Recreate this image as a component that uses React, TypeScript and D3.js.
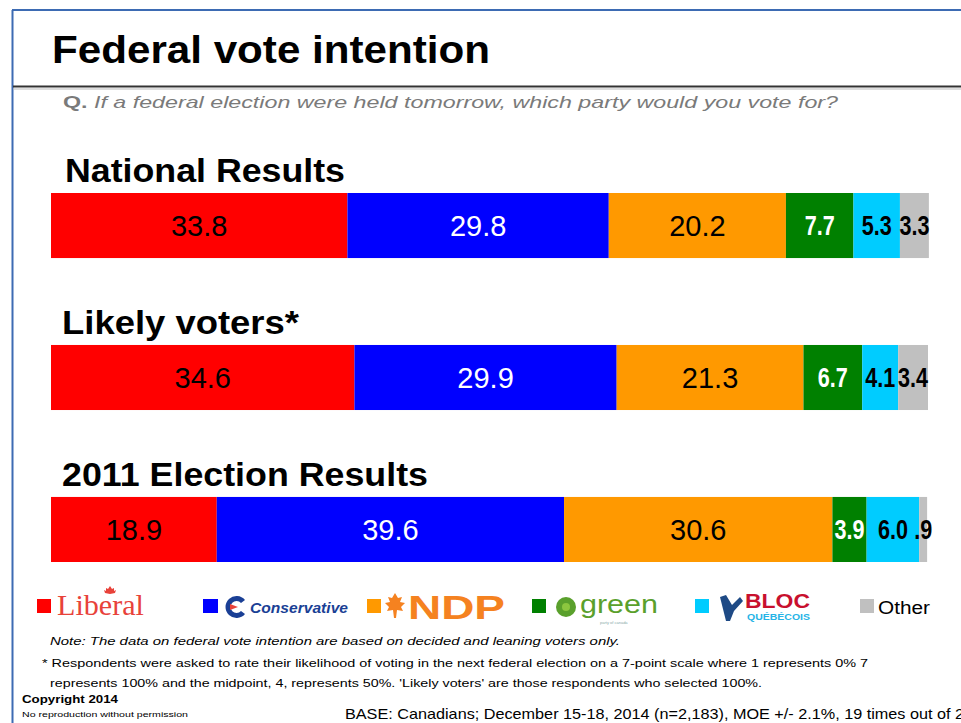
import React from 'react';
import * as d3 from 'd3';

// groups and parties
const groups = ['National Results', 'Likely voters*', '2011 Election Results'];
const parties = ['Liberal', 'Conservative', 'NDP', 'Green', 'Bloc', 'Other'];
const liberal = [33.8, 34.6, 18.9];
const conservative = [29.8, 29.9, 39.6];
const ndp = [20.2, 21.3, 30.6];
const green = [7.7, 6.7, 3.9];
const bloc = [5.3, 4.1, 6.0];
const other = [3.3, 3.4, 0.9];
const seriesValues = [liberal, conservative, ndp, green, bloc, other];

const fills = ['#FF0000', '#0000FF', '#FF9900', '#008000', '#00CCFF', '#C0C0C0'];
const labelFills = ['#000', '#fff', '#000', '#fff', '#000', '#000'];

const W = 961;
const H = 723;

const fmt = (v: number) => (v < 1 ? v.toFixed(1).replace(/^0/, '') : v.toFixed(1));

const App: React.FC = () => {
  const rows = groups.map((g, i) => {
    const r: any = { group: g };
    parties.forEach((p, j) => (r[p] = seriesValues[j][i]));
    return r;
  });
  const series = d3.stack().keys(parties)(rows);

  const x = d3.scaleLinear().domain([0, 100]).range([51, 928]);
  const y = d3.scaleBand().domain(groups).range([193, 562]).paddingInner(0.572).paddingOuter(0);
  const bw = y.bandwidth();

  const groupLabelX = [65, 62, 62];
  const groupLabelW = [280, 237, 366];

  return (
    <svg width={W} height={H} style={{ position: 'absolute', left: 0, top: 0, background: '#fff' }}
      fontFamily="'Liberation Sans', Arial, sans-serif">
      {/* frame */}
      <line x1={12} y1={10} x2={W} y2={10} stroke="#3d6bb3" strokeWidth={2} />
      <line x1={12.5} y1={10} x2={12.5} y2={H} stroke="#3d6bb3" strokeWidth={2} />

      <text x={52} y={63} fontSize={38} fontWeight="bold" textLength={438} lengthAdjust="spacingAndGlyphs"
        fill="#000">Federal vote intention</text>
      <line x1={13} y1={86.5} x2={W} y2={86.5} stroke="#333" strokeWidth={2} />
      <line x1={13} y1={89} x2={W} y2={89} stroke="#bbb" strokeWidth={1} />
      <text x={63} y={108} fontSize={17} fontStyle="italic" fill="#7a7a7a" textLength={775}
        lengthAdjust="spacingAndGlyphs"><tspan fontWeight="bold" fontStyle="normal">Q.</tspan> If a federal election were held tomorrow, which party would you vote for?</text>

      {groups.map((g, i) => (
        <text key={g} x={groupLabelX[i]} y={(y(g) as number) - 11} fontSize={33} fontWeight="bold"
          textLength={groupLabelW[i]} lengthAdjust="spacingAndGlyphs" fill="#000">{g}</text>
      ))}

      {series.map((s, j) => (
        <g key={s.key} fill={fills[j]}>
          {s.map((d: any, i) => (
            <rect key={i} x={x(d[0])} y={y(d.data.group)} width={Math.max(0, x(d[1]) - x(d[0]))} height={bw} />
          ))}
        </g>
      ))}

      {series.map((s, j) => (
        <g key={'l' + s.key}>
          {s.map((d: any, i) => {
            const v = seriesValues[j][i];
            const small = v < 10;
            const cx = (x(d[0]) + x(d[1])) / 2;
            const cy = (y(d.data.group) as number) + bw / 2;
            return (
              <g key={i} transform={`translate(${cx},${cy}) scale(${small ? 0.8 : 1},1)`}>
                <text dy="0.36em" textAnchor="middle" fill={labelFills[j]}
                  fontSize={small ? 27 : 29} fontWeight={small ? 'bold' : 'normal'}>{fmt(v)}</text>
              </g>
            );
          })}
        </g>
      ))}

      {/* legend */}
      <g>
        <rect x={37} y={599} width={14} height={14} fill={fills[0]} />
        <text x={57} y={615} fontSize={30} fontFamily="'Liberation Serif', serif" fill="#e8423a"
          textLength={87} lengthAdjust="spacingAndGlyphs">Liberal</text>
        <path d="M110,586 l2,3 l2,-1 l0,3 l2,-1 l-1,3 l-5,1 l-5,-1 l-1,-3 l2,1 l0,-3 l2,1 z" fill="#e8423a" />

        <rect x={203} y={599} width={15} height={14} fill={fills[1]} />
        <path d="M245,600 a11,11 0 1 0 0,14 l-4,-3 a6,6 0 1 1 0,-8 z" fill="#1a3f95" />
        <path d="M230,604 l8,3 l-8,3 z" fill="#e8423a" />
        <text x={250} y={613} fontSize={15} fontWeight="bold" fontStyle="italic" fill="#1a3f95"
          textLength={98} lengthAdjust="spacingAndGlyphs">Conservative</text>

        <rect x={367} y={599} width={14} height={14} fill={fills[2]} />
        <path d="M395,593 l3,5 l4,-1 l-2,5 l5,1 l-4,4 l2,4 l-6,-1 l-1,8 l-2,0 l-1,-8 l-6,1 l2,-4 l-4,-4 l5,-1 l-2,-5 l4,1 z"
          fill="#f58220" />
        <text x={408} y={619} fontSize={33} fontWeight="bold" fill="#f58220" textLength={97}
          lengthAdjust="spacingAndGlyphs">NDP</text>

        <rect x={532} y={599} width={14} height={14} fill={fills[3]} />
        <circle cx={566} cy={607} r={10} fill="#5aa02c" />
        <circle cx={566} cy={607} r={4} fill="#8cc63f" />
        <text x={580} y={613} fontSize={25} fill="#5aa02c" textLength={78} lengthAdjust="spacingAndGlyphs">green</text>
        <text x={600} y={624} fontSize={4} fill="#8aa">party of canada</text>

        <rect x={695} y={599} width={14} height={14} fill={fills[4]} />
        <path d="M720,597 l6,-2 l6,10 l8,-8 l3,4 l-9,10 l-4,10 l-4,0 z" fill="#1e4a85" />
        <text x={745} y={608} fontSize={20} fontWeight="bold" fill="#c8102e" textLength={65}
          lengthAdjust="spacingAndGlyphs">BLOC</text>
        <text x={747} y={620} fontSize={9} fontWeight="bold" fill="#26b4e6" textLength={63}
          lengthAdjust="spacingAndGlyphs">QUÉBÉCOIS</text>

        <rect x={860} y={599} width={14} height={14} fill={fills[5]} />
        <text x={878} y={614} fontSize={18} fill="#000" textLength={52} lengthAdjust="spacingAndGlyphs">Other</text>
      </g>

      {/* notes */}
      <text x={50} y={645} fontSize={11} fontStyle="italic" fill="#000" textLength={570}
        lengthAdjust="spacingAndGlyphs">Note: The data on federal vote intention are based on decided and leaning voters only.</text>
      <text x={42} y={667} fontSize={11} fill="#000" textLength={826} lengthAdjust="spacingAndGlyphs">* Respondents were asked to rate their likelihood of voting in the next federal election on a 7-point scale where 1 represents 0% 7</text>
      <text x={50} y={687} fontSize={11} fill="#000" textLength={712} lengthAdjust="spacingAndGlyphs">represents 100% and the midpoint, 4, represents 50%. 'Likely voters' are those respondents who selected 100%.</text>
      <text x={22} y={703} fontSize={11} fontWeight="bold" fill="#000" textLength={96}
        lengthAdjust="spacingAndGlyphs">Copyright 2014</text>
      <text x={22} y={717} fontSize={7} fill="#000" textLength={166} lengthAdjust="spacingAndGlyphs">No reproduction without permission</text>
      <text x={345} y={719} fontSize={15} fill="#000" textLength={628} lengthAdjust="spacingAndGlyphs">BASE: Canadians; December 15-18, 2014 (n=2,183), MOE +/- 2.1%, 19 times out of 20</text>
    </svg>
  );
};

export default App;
